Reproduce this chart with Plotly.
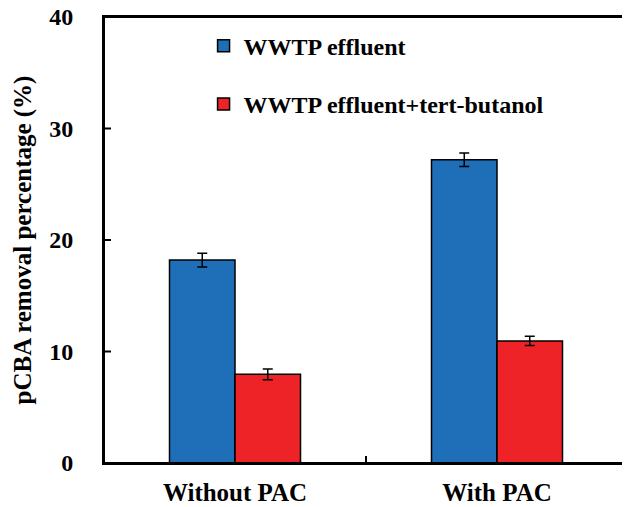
import plotly.graph_objects as go

categories = ["Without PAC", "With PAC"]
series_names = ["WWTP effluent", "WWTP effluent+tert-butanol"]
effluent = [18.2, 27.2]
effluent_err = [0.62, 0.6]
butanol = [7.95, 10.95]
butanol_err = [0.48, 0.42]
y_ticks = [0, 10, 20, 30, 40]

FONT = "Liberation Serif, Times New Roman, serif"
BLUE = "#1F6FB8"
RED = "#EE2327"

fig = go.Figure()
for name, vals, errs, col, grp in [
    (series_names[0], effluent, effluent_err, BLUE, "a"),
    (series_names[1], butanol, butanol_err, RED, "b"),
]:
    fig.add_trace(go.Bar(
        x=categories, y=vals, name=name, legendgroup=grp,
        marker=dict(color=col, line=dict(color="black", width=1.5)),
        error_y=dict(type="data", array=errs, color="black", thickness=1.5, width=5),
    ))

shapes = [dict(type="rect", xref="paper", yref="paper", x0=0, x1=1, y0=0, y1=1,
               line=dict(color="black", width=2), layer="above")]
for v in y_ticks:
    shapes.append(dict(type="line", xref="paper", yref="y", xsizemode="pixel", xanchor=0,
                       x0=0, x1=7, y0=v, y1=v, line=dict(color="black", width=2)))
for i in range(len(categories) - 1):
    shapes.append(dict(type="line", xref="x", yref="paper", ysizemode="pixel", yanchor=0,
                       y0=0, y1=7, x0=i + 0.5, x1=i + 0.5, line=dict(color="black", width=2)))

fig.update_layout(
    width=630, height=507,
    margin=dict(l=96, r=10, t=9, b=52, autoexpand=False),
    paper_bgcolor="white", plot_bgcolor="white",
    barmode="group", bargap=0.5, bargroupgap=0,
    font=dict(family=FONT, color="black", size=24, weight="bold"),
    showlegend=True,
    legend=dict(x=0.19, y=0.985, xanchor="left", yanchor="top",
                bgcolor="rgba(0,0,0,0)", font=dict(size=24, family=FONT, weight="bold"),
                traceorder="grouped", tracegroupgap=24, itemwidth=30),
    shapes=shapes,
    xaxis=dict(type="category", range=[-0.5, 1.5], showline=True, linecolor="black",
               linewidth=2, mirror=True, ticks="outside", ticklen=6,
               tickcolor="rgba(0,0,0,0)", showgrid=False, automargin=False,
               tickfont=dict(size=25, family=FONT, weight="bold")),
    yaxis=dict(range=[0, 40], tickvals=y_ticks, showline=True, linecolor="black",
               linewidth=2, mirror=True, ticks="outside", ticklen=24,
               tickcolor="rgba(0,0,0,0)", showgrid=False, zeroline=False,
               automargin=False, ticklabeloverflow="allow",
               tickfont=dict(size=24, family=FONT, weight="bold"),
               title=dict(text="pCBA removal percentage (%)", standoff=10,
                          font=dict(size=25, family=FONT, weight="bold"))),
)

fig.write_html("out.html")
